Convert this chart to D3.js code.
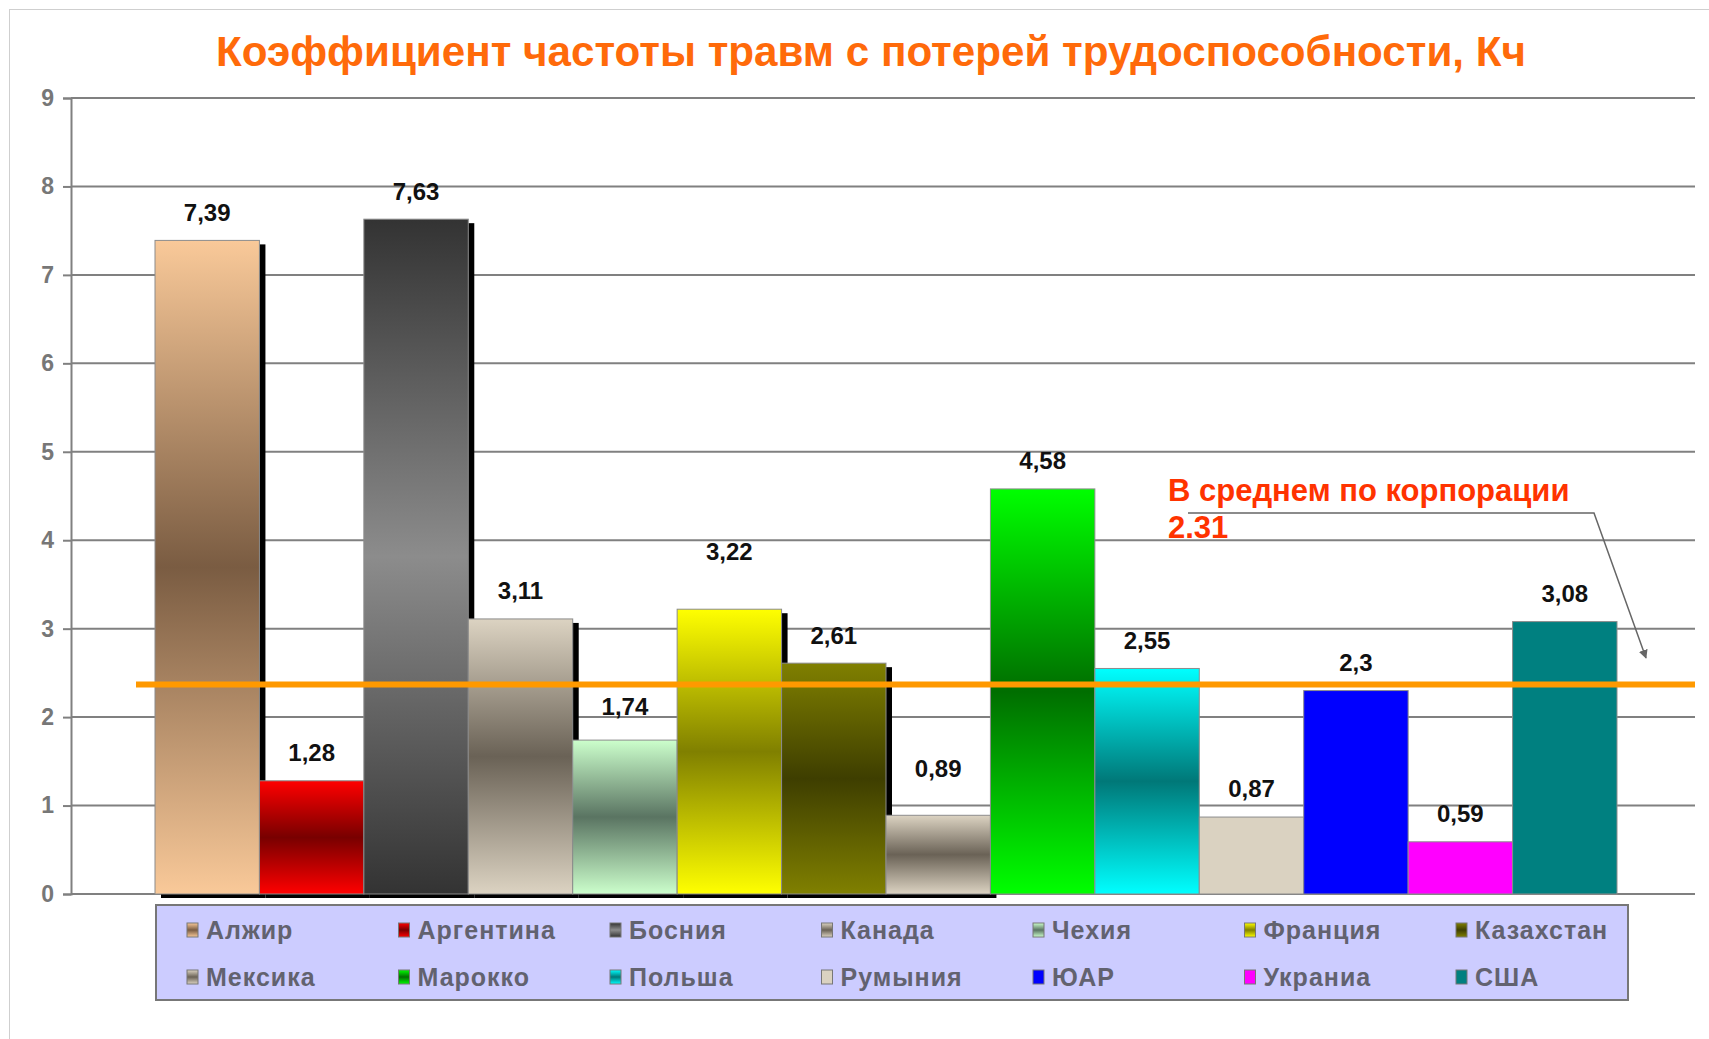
<!DOCTYPE html>
<html>
<head>
<meta charset="utf-8">
<script src="https://cdn.jsdelivr.net/npm/d3@7"></script>
<style>
  html, body { margin: 0; padding: 0; background: #ffffff; }
  svg { display: block; }
  text { font-family: "Liberation Sans", Arial, sans-serif; }
</style>
</head>
<body>
<svg id="chart" width="1709" height="1039"></svg>
<script>
// ---------- data ----------
const titleText = "Коэффициент частоты травм с потерей трудоспособности, Кч";
const countries = ["Алжир", "Аргентина", "Босния", "Канада", "Чехия", "Франция", "Казахстан",
                   "Мексика", "Марокко", "Польша", "Румыния", "ЮАР", "Украниа", "США"];
const values = [7.39, 1.28, 7.63, 3.11, 1.74, 3.22, 2.61, 0.89, 4.58, 2.55, 0.87, 2.3, 0.59, 3.08];
const edgeColors   = ["#F9C999", "#FF0000", "#333333", "#DCD3C2", "#CCFFCC", "#FFFF00", "#808000",
                      "#DCD3C2", "#00FF00", "#00FFFF", "#DAD2C1", "#0000FF", "#FF00FF", "#008080"];
const centerColors = ["#7A5C42", "#780000", "#8C8C8C", "#6A6256", "#5A7462", "#808000", "#3E3E00",
                      "#6A6256", "#006E00", "#007878", "#DAD2C1", "#0000FF", "#FF00FF", "#008080"];
const shadowed = ["Алжир", "Аргентина", "Босния", "Канада", "Чехия", "Франция", "Казахстан", "Мексика"];
const yTicks = [0, 1, 2, 3, 4, 5, 6, 7, 8, 9];
const avgLineLevel = 2.37;               // level at which the average line is drawn in the picture
const avgNote = ["В среднем по корпорации", "2.31"];

// ---------- layout ----------
const W = 1709, H = 1039;
const plot = { left: 71, right: 1695, top: 98, bottom: 894, barsLeft: 155, barsRight: 1617 };
const labelLiftDefault = 28;
const labelLiftExtra = { "Чехия": 6, "Франция": 30, "Мексика": 19 };

const svg = d3.select("#chart");

const defs = svg.append("defs");
countries.forEach((c, i) => {
  const g = defs.append("linearGradient").attr("id", "g" + i)
    .attr("x1", 0).attr("y1", 0).attr("x2", 0).attr("y2", 1);
  g.append("stop").attr("offset", "0").attr("stop-color", edgeColors[i]);
  g.append("stop").attr("offset", "0.5").attr("stop-color", centerColors[i]);
  g.append("stop").attr("offset", "1").attr("stop-color", edgeColors[i]);
});
defs.append("marker").attr("id", "arrow")
  .attr("viewBox", "0 0 10 10").attr("refX", 9).attr("refY", 5)
  .attr("markerWidth", 9).attr("markerHeight", 9).attr("markerUnits", "userSpaceOnUse")
  .attr("orient", "auto")
  .append("path").attr("d", "M0,0 L10,5 L0,10 z").attr("fill", "#666");

// frame
svg.append("rect").attr("x", 9.5).attr("y", 9.5).attr("width", W).attr("height", H)
  .attr("fill", "none").attr("stroke", "#cfcfcf").attr("stroke-width", 1);

// title
svg.append("text")
  .attr("x", 871).attr("y", 66)
  .attr("text-anchor", "middle")
  .attr("font-size", 42).attr("font-weight", "bold")
  .attr("fill", "#FF6A0A")
  .attr("textLength", 1310).attr("lengthAdjust", "spacingAndGlyphs")
  .text(titleText);

// scales
const y = d3.scaleLinear().domain([0, 9]).range([plot.bottom, plot.top]);
const x = d3.scaleBand().domain(countries).range([plot.barsLeft, plot.barsRight]).padding(0);

// gridlines
svg.append("g").selectAll("line").data(yTicks).join("line")
  .attr("x1", plot.left).attr("x2", plot.right)
  .attr("y1", d => y(d)).attr("y2", d => y(d))
  .attr("stroke", "#808080").attr("stroke-width", 2);

// y axis
const yAxis = svg.append("g").attr("transform", `translate(${plot.left},0)`)
  .call(d3.axisLeft(y).tickValues(yTicks).tickSize(8).tickPadding(9).tickFormat(d3.format("d")));
yAxis.select(".domain").attr("stroke", "#808080").attr("stroke-width", 2);
yAxis.selectAll(".tick line").attr("stroke", "#808080").attr("stroke-width", 2);
yAxis.selectAll(".tick text")
  .attr("font-size", 23).attr("font-weight", "bold").attr("fill", "#777")
  .style("font-family", "'Liberation Sans', Arial, sans-serif");

// shadows
svg.append("g").selectAll("rect").data(countries.filter(c => shadowed.includes(c))).join("rect")
  .attr("x", c => x(c) + 6)
  .attr("y", c => y(values[countries.indexOf(c)]) + 4)
  .attr("width", x.bandwidth())
  .attr("height", c => y(0) - y(values[countries.indexOf(c)]))
  .attr("fill", "#000");

// bars
svg.append("g").selectAll("rect").data(countries).join("rect")
  .attr("x", c => x(c))
  .attr("y", (c, i) => y(values[i]))
  .attr("width", x.bandwidth())
  .attr("height", (c, i) => y(0) - y(values[i]))
  .attr("fill", (c, i) => `url(#g${i})`)
  .attr("stroke", "#8c8c8c").attr("stroke-width", 1);

// value labels
svg.append("g").selectAll("text").data(countries).join("text")
  .attr("x", c => x(c) + x.bandwidth() / 2)
  .attr("y", (c, i) => y(values[i]) - labelLiftDefault - (labelLiftExtra[c] || 0))
  .attr("dy", "0.35em")
  .attr("text-anchor", "middle")
  .attr("font-size", 24).attr("font-weight", "bold").attr("fill", "#111")
  .text((c, i) => String(values[i]).replace(".", ","));

// average line
svg.append("line")
  .attr("x1", 136).attr("x2", plot.right)
  .attr("y1", y(avgLineLevel)).attr("y2", y(avgLineLevel))
  .attr("stroke", "#FF9900").attr("stroke-width", 6);

// annotation
const note = svg.append("text").attr("font-size", 31).attr("font-weight", "bold").attr("fill", "#FF3300");
note.append("tspan").attr("x", 1168).attr("y", 501).text(avgNote[0]);
note.append("tspan").attr("x", 1168).attr("y", 538).text(avgNote[1]);
svg.append("polyline")
  .attr("points", "1188,513 1594,513 1646,658")
  .attr("fill", "none").attr("stroke", "#666").attr("stroke-width", 1.5)
  .attr("marker-end", "url(#arrow)");

// legend
const legend = { x: 156, y: 905, w: 1472, h: 95, col0: 187, colStep: 211.5, rows: [930, 977], perRow: 7 };
svg.append("rect").attr("x", legend.x).attr("y", legend.y).attr("width", legend.w).attr("height", legend.h)
  .attr("fill", "#CCCCFF").attr("stroke", "#777").attr("stroke-width", 2);
const items = svg.append("g").selectAll("g").data(countries).join("g")
  .attr("transform", (c, i) => `translate(${legend.col0 + (i % legend.perRow) * legend.colStep},${legend.rows[Math.floor(i / legend.perRow)]})`);
items.append("rect").attr("x", 0).attr("y", -7).attr("width", 11).attr("height", 14)
  .attr("fill", (c, i) => `url(#g${i})`).attr("stroke", "#777").attr("stroke-width", 1);
items.append("text").attr("x", 19).attr("dy", "0.35em")
  .attr("font-size", 25).attr("font-weight", "bold").attr("fill", "#62626f")
  .attr("letter-spacing", 1)
  .text(c => c);
</script>
</body>
</html>
